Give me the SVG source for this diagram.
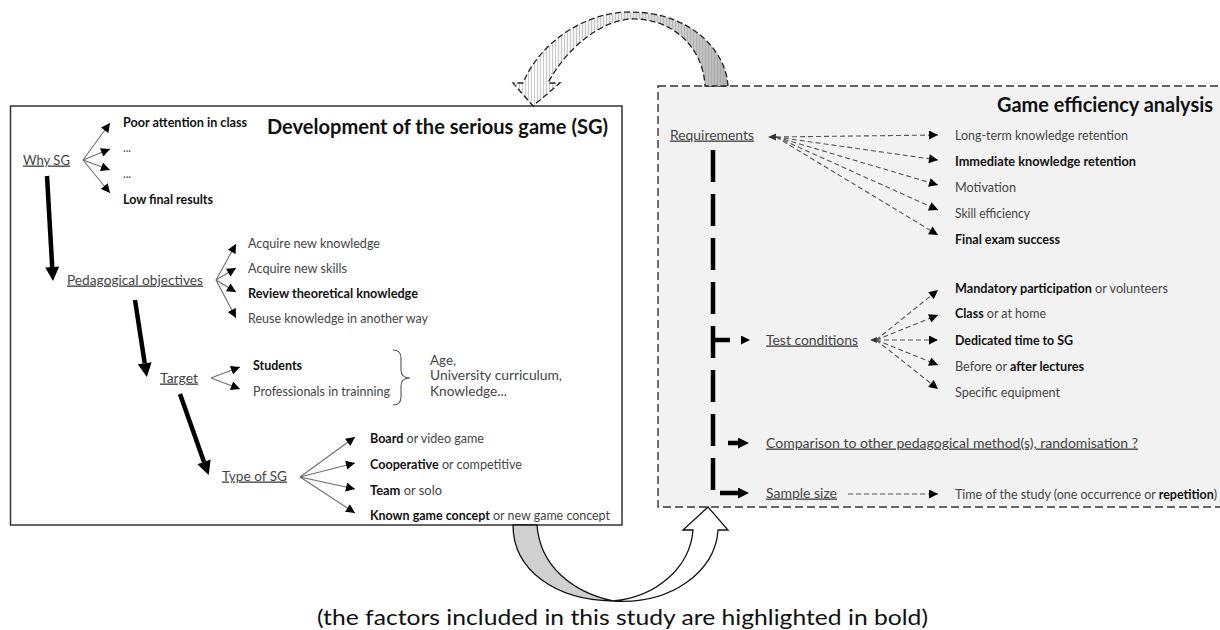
<svg xmlns="http://www.w3.org/2000/svg" width="1220" height="630" viewBox="0 0 1220 630">
<style>
.t{font-family:Lato,"Liberation Sans",sans-serif;font-size:13.5px;fill:#454545}
.b{font-weight:bold;fill:#111}
.u{text-decoration:underline}
.title{font-family:Lato,"Liberation Sans",sans-serif;font-size:21px;font-weight:bold;fill:#111}
.cap{font-family:Lato,"Liberation Sans",sans-serif;font-size:22px;fill:#111}
.thin{stroke:#6e6e6e;stroke-width:1.1;fill:none}
.dash{stroke:#555;stroke-width:1.1;fill:none;stroke-dasharray:5 3}
.thick{stroke:#000;stroke-width:4.5;fill:none}
.box{fill:#fff;stroke:#333;stroke-width:1.5}
.dbox{fill:#f2f2f2;stroke:#333;stroke-width:1.4;stroke-dasharray:8 4}
</style>
<defs>
<marker id="ah" viewBox="0 0 10 10" refX="10" refY="5" markerWidth="10" markerHeight="9" markerUnits="userSpaceOnUse" orient="auto"><path d="M0,0L10,5L0,10z" fill="#000"/></marker>
<marker id="ahT" viewBox="0 0 10 10" refX="0" refY="5" markerWidth="15" markerHeight="14" markerUnits="userSpaceOnUse" orient="auto"><path d="M0,0L10,5L0,10z" fill="#000"/></marker>
<marker id="ahM" viewBox="0 0 10 10" refX="0" refY="5" markerWidth="12" markerHeight="11" markerUnits="userSpaceOnUse" orient="auto"><path d="M0,0L10,5L0,10z" fill="#000"/></marker>
<marker id="ahS" viewBox="0 0 10 10" refX="0" refY="5" markerWidth="9" markerHeight="9" markerUnits="userSpaceOnUse" orient="auto"><path d="M0,0L10,5L0,10z" fill="#000"/></marker>
<linearGradient id="arcGrad" gradientUnits="userSpaceOnUse" x1="515" y1="0" x2="730" y2="0">
<stop offset="0" stop-color="#ffffff"/><stop offset="0.5" stop-color="#ececec"/><stop offset="1" stop-color="#b4b4b4"/>
</linearGradient>
<pattern id="vhatch" patternUnits="userSpaceOnUse" width="3" height="10"><line x1="0.5" y1="0" x2="0.5" y2="10" stroke="#9a9a9a" stroke-width="0.7" stroke-opacity="0.7"/></pattern>
</defs>

<g id="node-development">
<rect class="box" x="10.5" y="106" width="611.5" height="419"/>
<text class="title" x="267" y="134" textLength="341" lengthAdjust="spacingAndGlyphs">Development of the serious game (SG)</text>
</g>
<g id="node-analysis">
<rect class="dbox" x="658" y="86" width="600" height="421"/>
<text class="title" x="997" y="112" textLength="216" lengthAdjust="spacingAndGlyphs">Game efficiency analysis</text>
</g>

<g id="node-why"><text class="t u" x="23" y="164.5" textLength="47" lengthAdjust="spacingAndGlyphs">Why SG</text></g>
<g id="node-poor"><text class="t b" x="123" y="126.5" textLength="124" lengthAdjust="spacingAndGlyphs">Poor attention in class</text></g>
<g id="node-dots1"><text class="t" x="123" y="152" textLength="8" lengthAdjust="spacingAndGlyphs">...</text></g>
<g id="node-dots2"><text class="t" x="123" y="177.5" textLength="8" lengthAdjust="spacingAndGlyphs">...</text></g>
<g id="node-low"><text class="t b" x="123" y="203.5" textLength="90" lengthAdjust="spacingAndGlyphs">Low final results</text></g>

<g id="node-ped"><text class="t u" x="67" y="284.5" textLength="136" lengthAdjust="spacingAndGlyphs">Pedagogical objectives</text></g>
<g id="node-acq1"><text class="t" x="248" y="247.5" textLength="132" lengthAdjust="spacingAndGlyphs">Acquire new knowledge</text></g>
<g id="node-acq2"><text class="t" x="248" y="272.5" textLength="99" lengthAdjust="spacingAndGlyphs">Acquire new skills</text></g>
<g id="node-review"><text class="t b" x="248" y="297.5" textLength="170" lengthAdjust="spacingAndGlyphs">Review theoretical knowledge</text></g>
<g id="node-reuse"><text class="t" x="248" y="323" textLength="180" lengthAdjust="spacingAndGlyphs">Reuse knowledge in another way</text></g>

<g id="node-target"><text class="t u" x="160" y="382.5" textLength="38" lengthAdjust="spacingAndGlyphs">Target</text></g>
<g id="node-students"><text class="t b" x="253" y="369.5" textLength="49" lengthAdjust="spacingAndGlyphs">Students</text></g>
<g id="node-prof"><text class="t" x="253" y="395.5" textLength="137" lengthAdjust="spacingAndGlyphs">Professionals in trainning</text></g>
<g id="node-criteria">
<path d="M393,350 Q401,350 401,358 L401,370 Q401,378 410,378 Q401,378 401,386 L401,397 Q401,405 393,405" fill="none" stroke="#555" stroke-width="1.1"/>
<text class="t" x="430" y="364.5" textLength="26" lengthAdjust="spacingAndGlyphs">Age,</text>
<text class="t" x="430" y="380" textLength="132" lengthAdjust="spacingAndGlyphs">University curriculum,</text>
<text class="t" x="430" y="395.5" textLength="77" lengthAdjust="spacingAndGlyphs">Knowledge...</text>
</g>

<g id="node-type"><text class="t u" x="222" y="480.5" textLength="65" lengthAdjust="spacingAndGlyphs">Type of SG</text></g>
<g id="node-board"><text class="t" x="370" y="442.5" textLength="114" lengthAdjust="spacingAndGlyphs"><tspan class="b">Board</tspan> or video game</text></g>
<g id="node-coop"><text class="t" x="370" y="468.5" textLength="152" lengthAdjust="spacingAndGlyphs"><tspan class="b">Cooperative</tspan> or competitive</text></g>
<g id="node-team"><text class="t" x="370" y="494.5" textLength="72" lengthAdjust="spacingAndGlyphs"><tspan class="b">Team</tspan> or solo</text></g>
<g id="node-known"><text class="t" x="370" y="520" textLength="240" lengthAdjust="spacingAndGlyphs"><tspan class="b">Known game concept</tspan> or new game concept</text></g>

<g id="node-req"><text class="t u" x="670" y="139.5" textLength="84" lengthAdjust="spacingAndGlyphs">Requirements</text></g>
<g id="node-ltr"><text class="t" x="955" y="139.5" textLength="173" lengthAdjust="spacingAndGlyphs">Long-term knowledge retention</text></g>
<g id="node-imm"><text class="t b" x="955" y="165.5" textLength="181" lengthAdjust="spacingAndGlyphs">Immediate knowledge retention</text></g>
<g id="node-mot"><text class="t" x="955" y="191.5" textLength="61" lengthAdjust="spacingAndGlyphs">Motivation</text></g>
<g id="node-skill"><text class="t" x="955" y="217.5" textLength="75" lengthAdjust="spacingAndGlyphs">Skill efficiency</text></g>
<g id="node-final"><text class="t b" x="955" y="244" textLength="105" lengthAdjust="spacingAndGlyphs">Final exam success</text></g>

<g id="node-test"><text class="t u" x="766" y="344.5" textLength="92" lengthAdjust="spacingAndGlyphs">Test conditions</text></g>
<g id="node-mand"><text class="t" x="955" y="292.5" textLength="213" lengthAdjust="spacingAndGlyphs"><tspan class="b">Mandatory participation</tspan> or volunteers</text></g>
<g id="node-class"><text class="t" x="955" y="318" textLength="91" lengthAdjust="spacingAndGlyphs"><tspan class="b">Class</tspan> or at home</text></g>
<g id="node-ded"><text class="t b" x="955" y="344.5" textLength="118" lengthAdjust="spacingAndGlyphs">Dedicated time to SG</text></g>
<g id="node-before"><text class="t" x="955" y="370.5" textLength="129" lengthAdjust="spacingAndGlyphs">Before or <tspan class="b">after lectures</tspan></text></g>
<g id="node-spec"><text class="t" x="955" y="396.5" textLength="105" lengthAdjust="spacingAndGlyphs">Specific equipment</text></g>

<g id="node-comp"><text class="t u" x="766" y="447.5" textLength="372" lengthAdjust="spacingAndGlyphs">Comparison to other pedagogical method(s), randomisation ?</text></g>
<g id="node-sample"><text class="t u" x="766" y="497.5" textLength="71" lengthAdjust="spacingAndGlyphs">Sample size</text></g>
<g id="node-time"><text class="t" x="955" y="499" textLength="262" lengthAdjust="spacingAndGlyphs">Time of the study (one occurrence or <tspan class="b">repetition</tspan>)</text></g>

<g id="connectors">
<path class="thin" d="M83,160L110,123" marker-end="url(#ah)"/>
<path class="thin" d="M83,160L110,149" marker-end="url(#ah)"/>
<path class="thin" d="M83,160L110,170" marker-end="url(#ah)"/>
<path class="thin" d="M83,160L110,193" marker-end="url(#ah)"/>
<path class="thin" d="M216,280L236,244" marker-end="url(#ah)"/>
<path class="thin" d="M216,280L236,268" marker-end="url(#ah)"/>
<path class="thin" d="M216,280L236,292" marker-end="url(#ah)"/>
<path class="thin" d="M216,280L236,318" marker-end="url(#ah)"/>
<path class="thin" d="M211,378L240,367" marker-end="url(#ah)"/>
<path class="thin" d="M211,378L240,389" marker-end="url(#ah)"/>
<path class="thin" d="M300,477L355,437" marker-end="url(#ah)"/>
<path class="thin" d="M300,477L355,463" marker-end="url(#ah)"/>
<path class="thin" d="M300,477L355,489" marker-end="url(#ah)"/>
<path class="thin" d="M300,477L355,513" marker-end="url(#ah)"/>
<path class="thick" d="M47,176L52.2,267" marker-end="url(#ahT)"/>
<path class="thick" d="M135,300L144.7,363.2" marker-end="url(#ahT)"/>
<path class="thick" d="M180,394L204,461.9" marker-end="url(#ahT)"/>
<polygon points="768,137 776,133.5 776,140.5" fill="#333"/>
<path class="dash" d="M776,137L938,135" marker-end="url(#ah)"/>
<path class="dash" d="M776,137L938,160" marker-end="url(#ah)"/>
<path class="dash" d="M776,137L938,185" marker-end="url(#ah)"/>
<path class="dash" d="M776,137L938,210" marker-end="url(#ah)"/>
<path class="dash" d="M776,137L938,235" marker-end="url(#ah)"/>
<polygon points="870,340 877,337 877,343" fill="#333"/>
<path class="dash" d="M876,340L938,290" marker-end="url(#ah)"/>
<path class="dash" d="M876,340L938,315" marker-end="url(#ah)"/>
<path class="dash" d="M876,340L938,340" marker-end="url(#ah)"/>
<path class="dash" d="M876,340L938,365" marker-end="url(#ah)"/>
<path class="dash" d="M876,340L938,389" marker-end="url(#ah)"/>
<path class="dash" d="M848,494L938,494" marker-end="url(#ah)"/>
<path class="thick" d="M713,150V498" stroke-dasharray="32 12"/>
<path class="thick" d="M713,340H741" stroke-dasharray="17 40" marker-end="url(#ahS)"/>
<path class="thick" d="M728,443H738" marker-end="url(#ahM)"/>
<path class="thick" d="M720,493H738" marker-end="url(#ahM)"/>
<path d="M728,86 C726,50 690,12 630,12 C585,12 540,42 523,83 L513,83 L533,106 L560,83 L548,83 C565,50 600,20 632,19 C670,18 703,45 705,86 Z" fill="url(#arcGrad)"/>
<path d="M728,86 C726,50 690,12 630,12 C585,12 540,42 523,83 L513,83 L533,106 L560,83 L548,83 C565,50 600,20 632,19 C670,18 703,45 705,86 Z" fill="url(#vhatch)" stroke="#222" stroke-width="1.3" stroke-dasharray="6 3"/>
<path d="M513,525 C513,570 555,600 613,601 C572,592 540,566 537,525 Z" fill="#d0d0d0" stroke="#111" stroke-width="1.3"/>
<path d="M613,601 C656,597 690,568 693,530 L683,530 L708,507 L728,530 L718,530 C716,572 670,605 613,601 Z" fill="#fff" stroke="#111" stroke-width="1.3"/>
</g>

<text class="cap" x="317" y="625" textLength="611" lengthAdjust="spacingAndGlyphs">(the factors included in this study are highlighted in bold)</text>
</svg>
